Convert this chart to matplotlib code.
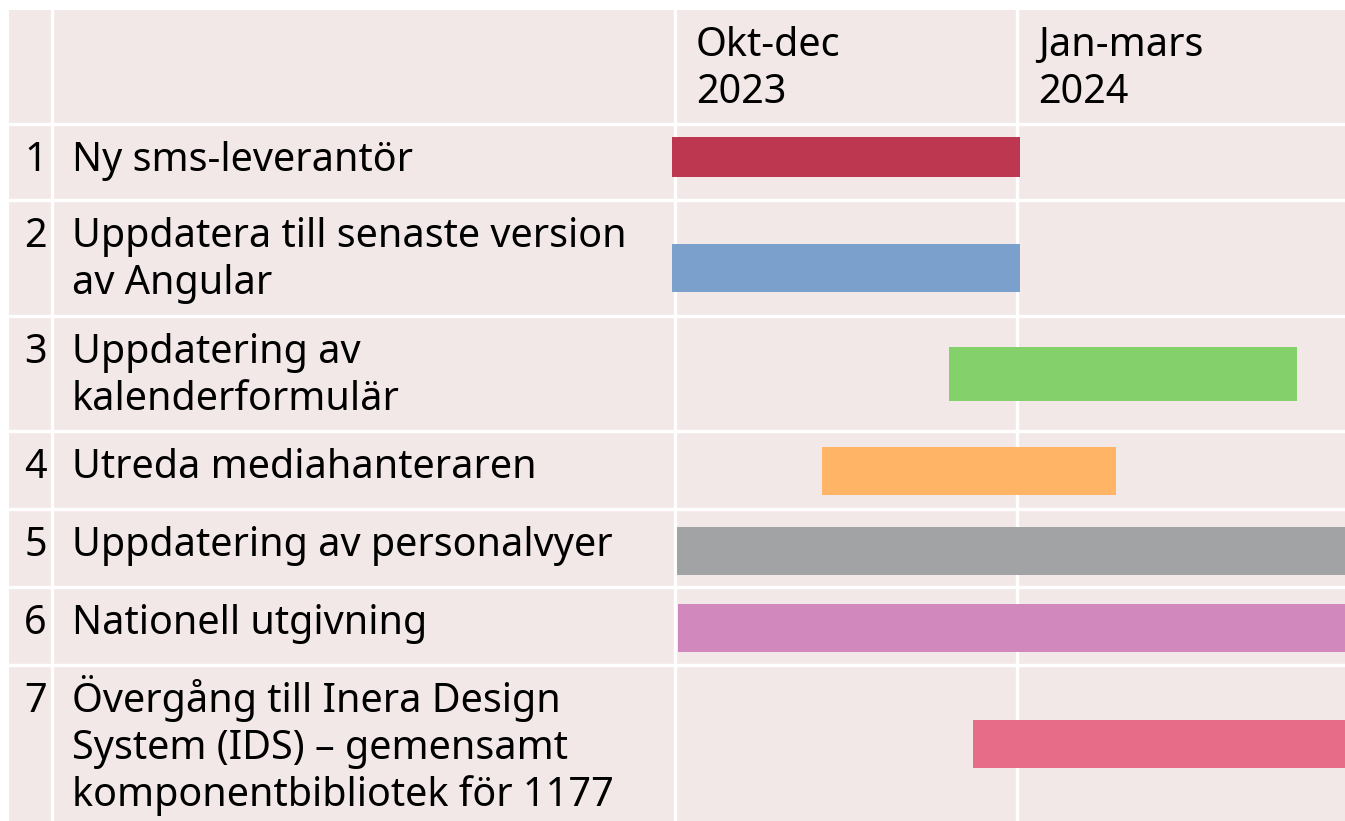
import matplotlib.pyplot as plt
from matplotlib.patches import Rectangle

plt.rcParams['font.family'] = ['Noto Sans', 'DejaVu Sans']

# Data: tasks and their time span, in quarters counted from Oct 2023
numbers = ['1', '2', '3', '4', '5', '6', '7']
tasks = [
    'Ny sms-leverantör',
    'Uppdatera till senaste version\nav Angular',
    'Uppdatering av\nkalenderformulär',
    'Utreda mediahanteraren',
    'Uppdatering av personalvyer',
    'Nationell utgivning',
    'Övergång till Inera Design\nSystem (IDS) – gemensamt\nkomponentbibliotek för 1177',
]
periods = ['Okt-dec\n2023', 'Jan-mars\n2024']
starts = [-0.01, -0.01, 0.80, 0.43, 0.005, 0.01, 0.87]
ends = [1.01, 1.01, 1.82, 1.29, 2.05, 2.05, 2.05]
colors = ['#BE3750', '#7BA0CC', '#84D16C', '#FFB466', '#A2A3A5', '#D189BD', '#E76C88']

# Layout (pixels)
W, H = 1345, 821
table_left, table_top = 9, 10
col_lines = [52, 675, 1017]
header_bottom = 124
row_heights = [76, 116, 115, 78, 78, 78, 156]
bar_heights = [40, 48, 54, 48, 48, 48, 48]
bar_shift = [-5, 10, 1, 1, 3, 2, 1]  # bar centre offset from row centre
q0_px, q_px = 675, 342  # quarter 0 at 675 px, one quarter = 342 px
cell_bg = '#F3E8E8'
fs = 28.5
line_px = 47      # distance between text lines
first_base = 47   # first baseline below top of a cell


def cell_text(x, top, s, ha='left'):
    # one text per line so the line spacing is exact
    for k, line in enumerate(s.split('\n')):
        ax.text(x, top + first_base + k * line_px, line, fontsize=fs,
                ha=ha, va='baseline', zorder=2)


fig = plt.figure(figsize=(W / 100, H / 100), dpi=100)
ax = fig.add_axes([0, 0, 1, 1])
ax.set_xlim(0, W)
ax.set_ylim(H, 0)
ax.axis('off')

# table background and white grid
ax.add_patch(Rectangle((table_left, table_top), W - table_left, H - table_top,
                       facecolor=cell_bg, edgecolor='none', zorder=0))
for x in col_lines:
    ax.plot([x, x], [table_top, H], color='white', lw=2.4, zorder=1)
row_tops = [header_bottom]
for h in row_heights:
    row_tops.append(row_tops[-1] + h)
for y in row_tops[:-1]:
    ax.plot([table_left, W], [y, y], color='white', lw=2.4, zorder=1)

# header
for i, p in enumerate(periods):
    cell_text(col_lines[1 + i] + 21, table_top - 1, p)

# row labels
for i, (n, t) in enumerate(zip(numbers, tasks)):
    cell_text(47, row_tops[i], n, ha='right')
    cell_text(72, row_tops[i], t)

# time axes (quarters) on top of the table
axt = fig.add_axes([0, 0, 1, 1])
axt.set_xlim((0 - q0_px) / q_px, (W - q0_px) / q_px)
axt.set_ylim(H, 0)
axt.axis('off')
axt.patch.set_alpha(0)
for i in range(len(tasks)):
    yc = (row_tops[i] + row_tops[i + 1]) / 2 + bar_shift[i]
    axt.barh(yc, ends[i] - starts[i], left=starts[i], height=bar_heights[i],
             color=colors[i], edgecolor='none')

plt.savefig('out.png', dpi=100)
